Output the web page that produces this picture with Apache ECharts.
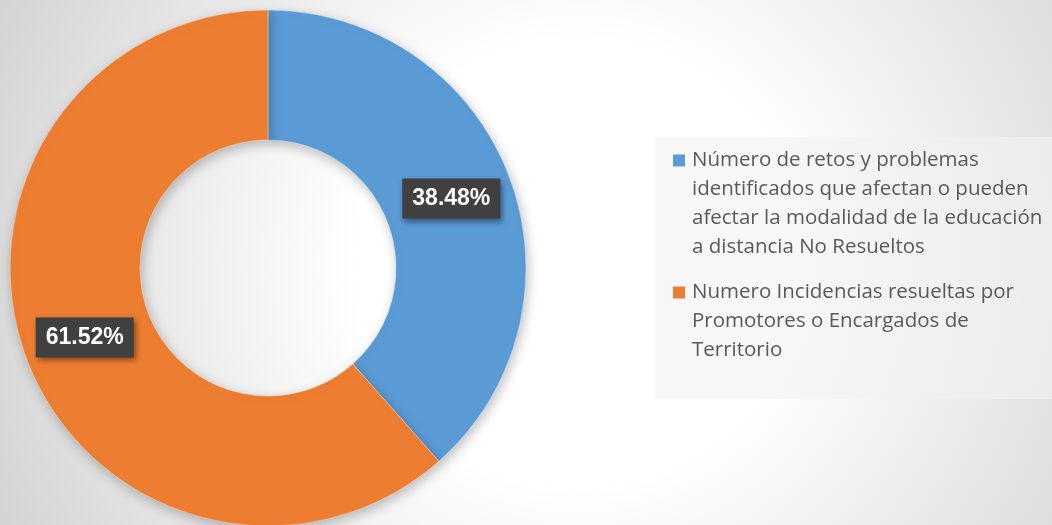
<!DOCTYPE html>
<html>
<head>
<meta charset="utf-8">
<script src="https://cdn.jsdelivr.net/npm/echarts@6/dist/echarts.min.js"></script>
<style>
  html, body { margin: 0; padding: 0; }
  #chart { width: 1052px; height: 525px; }
</style>
</head>
<body>
<div id="chart"></div>
<script>
// datos
const names = [
  'Número de retos y problemas identificados que afectan o pueden afectar la modalidad de la educación a distancia No Resueltos',
  'Numero Incidencias resueltas por Promotores o Encargados de Territorio'
];
const values = [38.48, 61.52];
const colors = ['#5B9BD5', '#ED7D31'];
// lineas de la leyenda tal como salen en la imagen
const legendLines = [
  ['Número de retos y problemas', 'identificados que afectan o pueden', 'afectar la modalidad de la educación', 'a distancia No Resueltos'],
  ['Numero Incidencias resueltas por', 'Promotores o Encargados de', 'Territorio']
];

const chart = echarts.init(document.getElementById('chart'));

let pieData = [];
for (let i = 0; i < names.length; i++) {
  pieData.push({ name: names[i], value: values[i], itemStyle: { color: colors[i] } });
}

// cuadrito de color + hueco, y sangria para las lineas siguientes
let rich = { sp: { width: 19, height: 12 }, gap: { width: 7, height: 12 } };
colors.forEach((c, i) => {
  rich['sq' + i] = { width: 12, height: 12, backgroundColor: c };
});

const option = {
  backgroundColor: {
    type: 'radial', x: 0.55, y: 0.5, r: 1.2,
    colorStops: [
      { offset: 0, color: '#ffffff' },
      { offset: 0.35, color: '#ffffff' },
      { offset: 1, color: '#d4d4d4' }
    ]
  },
  animation: false,
  legend: {
    orient: 'vertical',
    left: 655,
    top: 137,
    padding: [9, 12, 34, 13],
    backgroundColor: 'rgba(242,242,242,0.6)',
    itemGap: 16,
    icon: 'none',
    itemWidth: 0,
    itemHeight: 12,
    data: names,
    formatter: function (name) {
      let idx = names.indexOf(name);
      return legendLines[idx].map((l, k) => (k === 0 ? '{sq' + idx + '|}{gap|}' : '{sp|}') + l).join('\n');
    },
    textStyle: {
      color: '#595959',
      fontFamily: 'Open Sans',
      fontSize: 20.5,
      lineHeight: 29,
      rich: rich
    }
  },
  series: [{
    type: 'pie',
    center: [268, 268],
    radius: [128, 258],
    startAngle: 90,
    clockwise: true,
    data: pieData,
    itemStyle: {
      borderColor: 'rgba(255,255,255,0.35)',
      borderWidth: 1,
      shadowBlur: 12,
      shadowColor: 'rgba(0,0,0,0.25)',
      shadowOffsetX: 2,
      shadowOffsetY: 4
    },
    label: {
      show: true,
      position: 'inside',
      formatter: '{c}%',
      color: '#ffffff',
      fontFamily: 'Liberation Sans',
      fontWeight: 'bold',
      fontSize: 23,
      backgroundColor: '#404040',
      padding: [9, 10, 8, 10],
      shadowBlur: 6,
      shadowColor: 'rgba(0,0,0,0.45)',
      shadowOffsetX: 2,
      shadowOffsetY: 3
    },
    labelLine: { show: false },
    emphasis: { disabled: true }
  }]
};

chart.setOption(option);
</script>
</body>
</html>
